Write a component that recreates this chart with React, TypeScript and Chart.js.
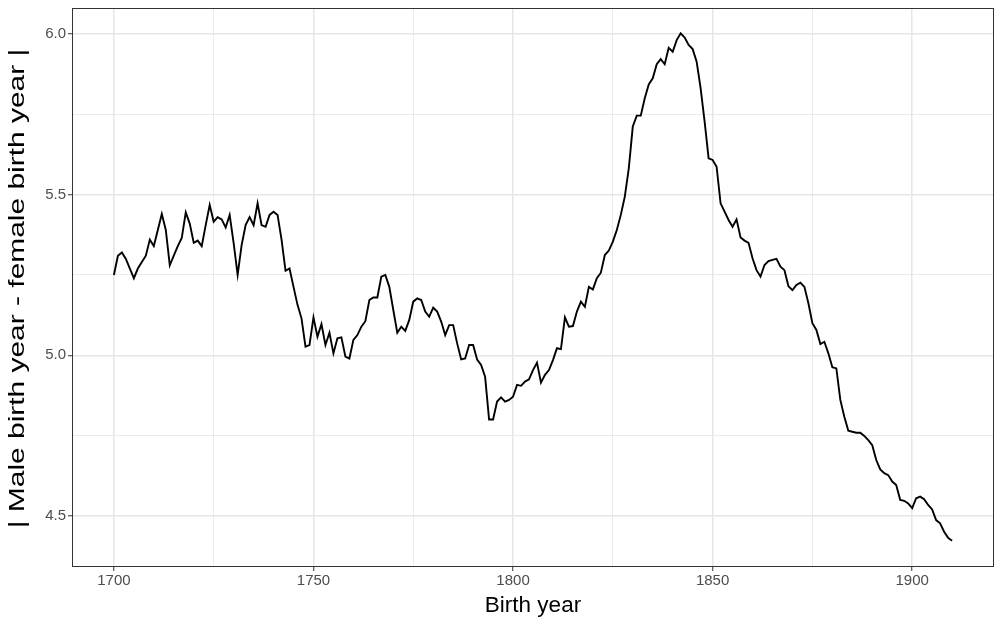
import React, { useEffect, useRef } from "react";
import { Chart, registerables } from "chart.js";

Chart.register(...registerables);

// Birth-year difference series, one value per year starting at startYear
const startYear = 1700;
const gapValues = [
  5.25, 5.31, 5.32, 5.30, 5.27, 5.24, 5.27, 5.29, 5.31, 5.36,
  5.34, 5.39, 5.44, 5.39, 5.28, 5.31, 5.34, 5.365, 5.445, 5.41,
  5.35, 5.357, 5.34, 5.405, 5.468, 5.416, 5.43, 5.423, 5.398, 5.437,
  5.349, 5.25, 5.343, 5.405, 5.43, 5.405, 5.473, 5.405, 5.40, 5.437,
  5.447, 5.437, 5.36, 5.263, 5.27, 5.213, 5.157, 5.115, 5.027, 5.032,
  5.118, 5.058, 5.097, 5.032, 5.07, 5.006, 5.053, 5.056, 4.996, 4.99,
  5.048, 5.063, 5.089, 5.106, 5.172, 5.18, 5.18, 5.245, 5.25, 5.213,
  5.141, 5.07, 5.089, 5.076, 5.11, 5.167, 5.177, 5.172, 5.136, 5.12,
  5.148, 5.136, 5.105, 5.063, 5.094, 5.094, 5.037, 4.987, 4.99, 5.032,
  5.032, 4.987, 4.97, 4.933, 4.80, 4.80, 4.856, 4.869, 4.856, 4.861,
  4.871, 4.908, 4.905, 4.918, 4.925, 4.954, 4.977, 4.915, 4.939, 4.954,
  4.985, 5.022, 5.019, 5.118, 5.089, 5.091, 5.136, 5.167, 5.151, 5.213,
  5.205, 5.24, 5.257, 5.312, 5.326, 5.354, 5.39, 5.437, 5.494, 5.582,
  5.712, 5.746, 5.746, 5.80, 5.843, 5.862, 5.906, 5.922, 5.906, 5.957,
  5.945, 5.981, 6.002, 5.989, 5.966, 5.953, 5.914, 5.831, 5.727, 5.613,
  5.608, 5.587, 5.473, 5.447, 5.421, 5.40, 5.423, 5.367, 5.357, 5.35,
  5.302, 5.265, 5.245, 5.281, 5.293, 5.297, 5.30, 5.276, 5.265, 5.215,
  5.203, 5.219, 5.226, 5.213, 5.162, 5.10, 5.079, 5.035, 5.042, 5.006,
  4.963, 4.959, 4.861, 4.809, 4.765, 4.762, 4.759, 4.759, 4.749, 4.736,
  4.72, 4.674, 4.645, 4.633, 4.627, 4.607, 4.596, 4.55, 4.547, 4.539,
  4.524, 4.555, 4.56, 4.552, 4.534, 4.52, 4.487, 4.477, 4.451, 4.432,
  4.423,
];

const xMajorTicks = [1700, 1750, 1800, 1850, 1900];
const xMinorTicks = [1725, 1775, 1825, 1875];
const yMajorTicks = [4.5, 5.0, 5.5, 6.0];
const yMinorTicks = [4.75, 5.25, 5.75];
const xTickLabels = ["1700", "1750", "1800", "1850", "1900"];
const yTickLabels = ["4.5", "5.0", "5.5", "6.0"];

const xTitleText = "Birth year";
const yTitleText = "| Male birth year - female birth year |";

const FONT = "'Liberation Sans', Arial, Helvetica, sans-serif";
const TITLE_SIZE = 22.5;
const TICK_SIZE = 15;
const Y_TITLE_STRETCH = 1.33;

const Y_MIN = 4.341;
const Y_MAX = 6.081;

const panelBorder = {
  id: "panelBorder",
  afterDatasetsDraw(chart: any) {
    const { ctx, chartArea } = chart;
    ctx.save();
    ctx.strokeStyle = "#333333";
    ctx.lineWidth = 1;
    ctx.strokeRect(
      Math.round(chartArea.left) + 0.5,
      Math.round(chartArea.top) + 0.5,
      Math.round(chartArea.right - chartArea.left) - 1,
      Math.round(chartArea.bottom - chartArea.top) - 1
    );
    ctx.restore();
  },
};

const axisText = {
  id: "axisText",
  afterDraw(chart: any) {
    const { ctx, chartArea } = chart;
    const xs = chart.scales.x;
    const ys = chart.scales.y;
    ctx.save();

    ctx.fillStyle = "#4d4d4d";
    ctx.font = `${TICK_SIZE}px ${FONT}`;
    ctx.textBaseline = "middle";
    ctx.textAlign = "center";
    xMajorTicks.forEach((v, i) => {
      ctx.fillText(xTickLabels[i], xs.getPixelForValue(v), xs.top + 14);
    });
    ctx.textAlign = "right";
    yMajorTicks.forEach((v, i) => {
      ctx.fillText(yTickLabels[i], ys.right - 6, ys.getPixelForValue(v));
    });

    ctx.fillStyle = "#000000";
    ctx.font = `${TITLE_SIZE}px ${FONT}`;
    ctx.textAlign = "center";
    ctx.fillText(xTitleText, (chartArea.left + chartArea.right) / 2, 606);
    ctx.save();
    ctx.translate(18, (chartArea.top + chartArea.bottom) / 2 + 1);
    ctx.rotate(-Math.PI / 2);
    ctx.scale(Y_TITLE_STRETCH, 1);
    ctx.fillText(yTitleText, 0, 0);
    ctx.restore();

    ctx.restore();
  },
};

export default function App() {
  const canvasRef = useRef<HTMLCanvasElement | null>(null);

  useEffect(() => {
    if (!canvasRef.current) return;
    const points = gapValues.map((v, i) => ({ x: startYear + i, y: v }));
    const has = (list: number[], v: number) => list.some((m) => Math.abs(m - v) < 1e-9);
    const allX = [...xMajorTicks, ...xMinorTicks].sort((a, b) => a - b);
    const allY = [...yMajorTicks, ...yMinorTicks].sort((a, b) => a - b);

    const chart = new Chart(canvasRef.current, {
      type: "line",
      data: {
        datasets: [
          {
            data: points,
            borderColor: "#000000",
            borderWidth: 1.9,
            pointRadius: 0,
            tension: 0,
            fill: false,
          },
        ],
      },
      options: {
        animation: false,
        responsive: false,
        devicePixelRatio: 1,
        layout: { padding: { top: 8, right: 1, left: 0, bottom: 0 } },
        plugins: {
          legend: { display: false },
          tooltip: { enabled: false },
        },
        scales: {
          x: {
            type: "linear",
            min: 1689.5,
            max: 1920.5,
            afterBuildTicks: (scale: any) => {
              scale.ticks = allX.map((v) => ({ value: v }));
            },
            afterFit: (scale: any) => {
              scale.height = 55;
            },
            border: { display: false },
            grid: {
              color: "#e6e6e6",
              lineWidth: (c: any) => (has(xMajorTicks, c.tick?.value) ? 1.5 : 0.8),
              tickColor: (c: any) =>
                has(xMajorTicks, c.tick?.value) ? "#333333" : "rgba(0,0,0,0)",
              tickLength: 4,
              tickWidth: 1,
              drawTicks: true,
            },
            ticks: { display: false, autoSkip: false },
            title: { display: false },
          },
          y: {
            type: "linear",
            min: Y_MIN,
            max: Y_MAX,
            afterBuildTicks: (scale: any) => {
              scale.ticks = allY.map((v) => ({ value: v }));
            },
            afterFit: (scale: any) => {
              scale.width = 72;
            },
            border: { display: false },
            grid: {
              color: "#e6e6e6",
              lineWidth: (c: any) => (has(yMajorTicks, c.tick?.value) ? 1.5 : 0.8),
              tickColor: (c: any) =>
                has(yMajorTicks, c.tick?.value) ? "#333333" : "rgba(0,0,0,0)",
              tickLength: 4,
              tickWidth: 1,
              drawTicks: true,
            },
            ticks: { display: false, autoSkip: false },
            title: { display: false },
          },
        },
      },
      plugins: [panelBorder, axisText],
    });
    return () => chart.destroy();
  }, []);

  return (
    <div style={{ position: "absolute", left: 0, top: 0, width: 995, height: 622, background: "#ffffff" }}>
      <canvas ref={canvasRef} width={995} height={622} style={{ display: "block" }} />
    </div>
  );
}
